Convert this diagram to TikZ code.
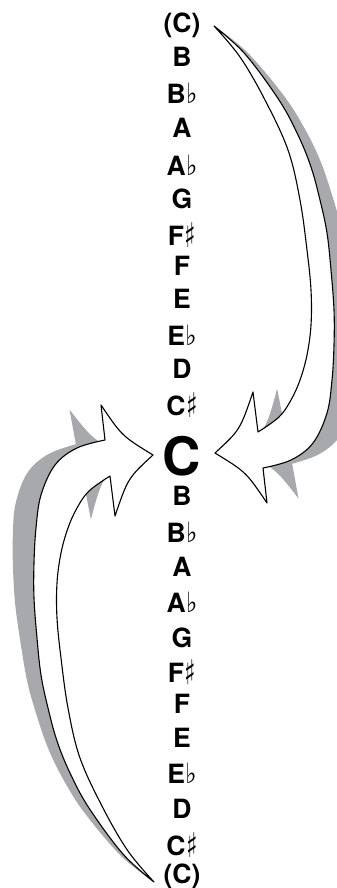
\documentclass[tikz,border=0pt]{standalone}
\usepackage{fontspec}
\usepackage{graphicx}
\setmainfont{TeX Gyre Heros}
\newfontfamily\accfont{DejaVu Sans}
\definecolor{shade}{RGB}{167,169,172}
\newcommand\noteflat{\kern0.5pt\scalebox{0.85}[1]{\accfont\fontsize{28}{28}\selectfont ♭}}
\newcommand\notesharp{\kern0.5pt\raisebox{-2pt}{\scalebox{0.7}[1]{\accfont\fontsize{34}{34}\selectfont ♯}}}
\tikzset{
  note/.style={font=\bfseries\fontsize{26.5}{26.5}\selectfont, anchor=base, inner sep=0pt},
  bignote/.style={font=\bfseries\fontsize{53}{53}\selectfont, anchor=base, inner sep=0pt},
  arrowbody/.style={fill=white, draw=black, line width=1.1pt, line join=round},
  arrowshade/.style={fill=shade},
}
\def\rightarrowshape{plot[smooth,tension=0.6] coordinates {(214,26) (245,54) (279,100) (298,135) (311,167) (320,200) (327,233) (331,270) (334,310) (334,345) (332,380) (327,413) (313,443) (291,460) (263,468)}
  -- (267,503) .. controls (246,472) .. (215,453) .. controls (240,430) .. (253,392) -- (258,432)
  -- plot[smooth,tension=0.6] coordinates {(258,432) (279,417) (291,400) (300,380) (307,355) (311,325) (311,290) (307,250) (300,200) (288,150) (265,100) (240,57) (214,26)} -- cycle}
\begin{document}
\begin{tikzpicture}[x=1pt,y=-1pt]
\useasboundingbox (0,0) rectangle (337,888);
\clip (0,0) rectangle (337,888);
% shadows
\fill[arrowshade, rotate around={3.8:(214,26)}] \rightarrowshape;
\begin{scope}[rotate around={180:(184,454)}]
  \fill[arrowshade, rotate around={3.8:(214,26)}] \rightarrowshape;
\end{scope}
% arrows
\filldraw[arrowbody] \rightarrowshape;
\begin{scope}[rotate around={180:(184,454)}]
  \filldraw[arrowbody] \rightarrowshape;
\end{scope}
% notes
\node[note] (n1) at (182,33) {(C)};
\node[note] (n2) at (182,67) {B};
\node[note] (n3) at (182,103.5) {B\noteflat};
\node[note] (n4) at (182,138) {A};
\node[note] (n5) at (182,175) {A\noteflat};
\node[note] (n6) at (182,208) {G};
\node[note] (n7) at (182,245) {F\notesharp};
\node[note] (n8) at (182,275) {F};
\node[note] (n9) at (182,308) {E};
\node[note] (n10) at (182,345) {E\noteflat};
\node[note] (n11) at (182,378) {D};
\node[note] (n12) at (182,415) {C\notesharp};
\node[bignote] (n13) at (182,475) {C};
\node[note] (n14) at (182,505) {B};
\node[note] (n15) at (182,542) {B\noteflat};
\node[note] (n16) at (182,576) {A};
\node[note] (n17) at (182,612) {A\noteflat};
\node[note] (n18) at (182,647) {G};
\node[note] (n19) at (182,682) {F\notesharp};
\node[note] (n20) at (182,713) {F};
\node[note] (n21) at (182,747) {E};
\node[note] (n22) at (182,783) {E\noteflat};
\node[note] (n23) at (182,818) {D};
\node[note] (n24) at (182,855) {C\notesharp};
\node[note] (n25) at (182,883) {(C)};
\end{tikzpicture}
\end{document}
